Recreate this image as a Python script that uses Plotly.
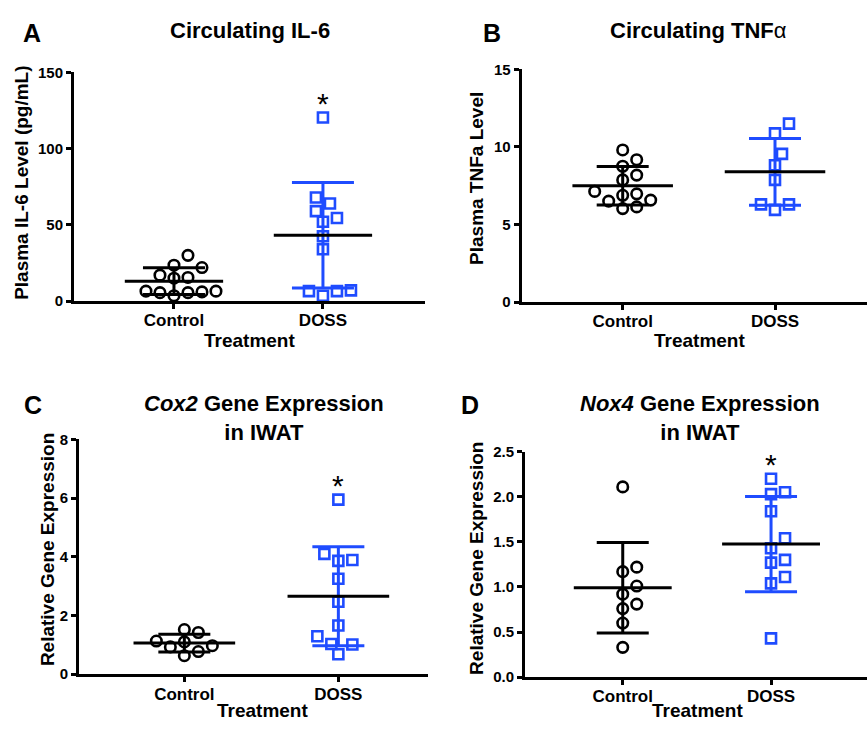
import numpy as np
import plotly.graph_objects as go

W, H = 867, 731
FONT = "Liberation Sans, Arial, sans-serif"
BLACK = "#000000"
BLUE = "#1f4cff"

categories = ["Control", "DOSS"]

# Panel A: circulating IL-6 (pg/mL)
il6_control = [30, 22, 23.5, 15, 15.5, 17, 6.5, 5.5, 3.5, 5.5, 6, 6.5]
il6_doss = [120.5, 68, 64, 59, 54.5, 52, 42.5, 34, 6.5, 3.5, 6.5, 7]
il6_ticks = [0, 50, 100, 150]

# Panel B: circulating TNFa
tnf_control = [9.8, 9.17, 8.75, 8.18, 7.87, 7.13, 6.88, 6.5, 6.02, 6.13, 6.57, 6.97]
tnf_doss = [11.5, 10.87, 9.55, 8.81, 7.87, 6.29, 5.94, 6.29]
tnf_ticks = [0, 5, 10, 15]

# Panel C: Cox2 relative gene expression
cox2_control = [1.42, 1.52, 1.10, 1.13, 0.93, 0.97, 0.63, 0.77]
cox2_doss = [5.95, 4.10, 3.86, 3.89, 3.25, 2.47, 1.66, 1.29, 1.03, 1.01, 0.68]
cox2_ticks = [0, 2, 4, 6, 8]

# Panel D: Nox4 relative gene expression
nox4_control = [2.11, 1.22, 1.17, 1.01, 0.92, 0.81, 0.76, 0.60, 0.33]
nox4_doss = [2.20, 2.05, 2.03, 1.84, 1.54, 1.43, 1.27, 1.30, 1.11, 1.04, 0.43]
nox4_ticks = [0, 0.5, 1.0, 1.5, 2.0, 2.5]

panels = [
    dict(letter="A", title="Circulating IL-6", ytitle="Plasma IL-6 Level (pg/mL)",
         groups=[il6_control, il6_doss], ticks=il6_ticks, tickformat="d", star=True,
         xdom=[74 / W, 425 / W], ydom=[1 - 299 / H, 1 - 65 / H], xr=[-0.671, 1.685],
         cap=31, letter_xy=(32, 25), title_xy=(250, 22), ytitle_xy=(22, 178),
         treat_xy=(249, 339)),
    dict(letter="B", title="Circulating TNF<span style='font-weight:normal'>α</span>",
         ytitle="Plasma TNFa Level",
         groups=[tnf_control, tnf_doss], ticks=tnf_ticks, tickformat="d", star=False,
         xdom=[521.7 / W, 1.0], ydom=[1 - 300 / H, 1 - 61.7 / H], xr=[-0.663, 1.604],
         cap=26, letter_xy=(492, 25), title_xy=(698, 22), ytitle_xy=(477, 174),
         treat_xy=(699, 339)),
    dict(letter="C", title="<i>Cox2</i> Gene Expression<br>in IWAT",
         ytitle="Relative Gene Expression",
         groups=[cox2_control, cox2_doss], ticks=cox2_ticks, tickformat="d", star=True,
         xdom=[79 / W, 428 / W], ydom=[1 - 681 / H, 1 - 440.7 / H], xr=[-0.684, 1.582],
         cap=26, letter_xy=(33, 405), title_xy=(264, 419), ytitle_xy=(47, 554),
         treat_xy=(262, 718)),
    dict(letter="D", title="<i>Nox4</i> Gene Expression<br>in IWAT",
         ytitle="Relative Gene Expression",
         groups=[nox4_control, nox4_doss], ticks=nox4_ticks, tickformat=".1f", star=True,
         xdom=[525 / W, 1.0], ydom=[1 - 684 / H, 1 - 453.3 / H], xr=[-0.659, 1.647],
         cap=26, letter_xy=(470, 405), title_xy=(700, 419), ytitle_xy=(477, 563),
         treat_xy=(697, 718)),
]


def swarm(values, px_per_y, px_per_x, diam=12.5, step=7.0):
    """Greedy beeswarm: spread points horizontally so markers don't overlap."""
    values = np.asarray(values, dtype=float)
    order = np.argsort(values, kind="stable")
    cands = [0.0] + [s * j * step for j in range(1, 30) for s in (1, -1)]
    placed = []
    offs = np.zeros(len(values))
    for i in order:
        y = values[i] * px_per_y
        chosen = cands[-1]
        for c in cands:
            if all((c - px) ** 2 + (y - py) ** 2 >= diam ** 2 for px, py in placed):
                chosen = c
                break
        placed.append((chosen, y))
        offs[i] = chosen / px_per_x
    return offs


fig = go.Figure()
annotations = []


def px(xp, yp):
    return xp / W, 1 - yp / H


for k, p in enumerate(panels, start=1):
    xa = "x" if k == 1 else f"x{k}"
    ya = "y" if k == 1 else f"y{k}"
    ymax = p["ticks"][-1]
    plot_h = (p["ydom"][1] - p["ydom"][0]) * H
    plot_w = (p["xdom"][1] - p["xdom"][0]) * W
    px_per_y = plot_h / ymax
    px_per_x = plot_w / (p["xr"][1] - p["xr"][0])

    colors = [BLACK, BLUE]
    symbols = ["circle-open", "square-open"]
    sizes = [10.5, 10]
    # points
    for gi, vals in enumerate(p["groups"]):
        offs = swarm(vals, px_per_y, px_per_x)
        fig.add_trace(go.Scatter(
            x=gi + offs, y=vals, mode="markers", xaxis=xa, yaxis=ya,
            marker=dict(symbol=symbols[gi], size=sizes[gi], color=colors[gi],
                        line=dict(width=2.6, color=colors[gi])),
            cliponaxis=False, showlegend=False, hoverinfo="y"))
    # mean +/- SD
    for gi, vals in enumerate(p["groups"]):
        m = float(np.mean(vals))
        sd = float(np.std(vals, ddof=1))
        fig.add_trace(go.Scatter(
            x=[gi], y=[m], mode="markers", xaxis=xa, yaxis=ya,
            marker=dict(size=1, opacity=0),
            error_y=dict(type="data", array=[sd], visible=True, color=colors[gi],
                         thickness=3, width=p["cap"]),
            cliponaxis=False, showlegend=False, hoverinfo="skip"))
        fig.add_trace(go.Scatter(
            x=[gi - 0.33, gi + 0.33], y=[m, m], mode="lines", xaxis=xa, yaxis=ya,
            line=dict(color=BLACK, width=3), cliponaxis=False,
            showlegend=False, hoverinfo="skip"))

    axis_common = dict(showgrid=False, zeroline=False, showline=True, linewidth=3,
                       linecolor=BLACK, ticks="outside", tickwidth=2.5, tickcolor=BLACK)
    fig.update_layout({
        ("xaxis" if k == 1 else f"xaxis{k}"): dict(
            domain=p["xdom"], anchor=ya, range=p["xr"], tickmode="array",
            tickvals=[0, 1], ticktext=categories, ticklen=5, ticklabelstandoff=-3,
            tickfont=dict(family=FONT, size=17, color=BLACK, weight="bold"),
            **axis_common),
        ("yaxis" if k == 1 else f"yaxis{k}"): dict(
            domain=p["ydom"], anchor=xa, range=[0, ymax], tickmode="array",
            tickvals=p["ticks"], tickformat=p["tickformat"], ticklen=5,
            tickfont=dict(family=FONT, size=15, color=BLACK, weight="bold"),
            **axis_common),
    })

    # texts
    lx, ly = px(*p["letter_xy"])
    annotations.append(dict(text=p["letter"], x=lx, y=ly, xref="paper", yref="paper",
                            showarrow=False, xanchor="center", yanchor="middle",
                            font=dict(family=FONT, size=25, color=BLACK, weight="bold")))
    tx, ty = px(*p["title_xy"])
    annotations.append(dict(text=p["title"], x=tx, y=ty, xref="paper", yref="paper",
                            showarrow=False, xanchor="center", yanchor="middle",
                            font=dict(family=FONT, size=22, color=BLACK, weight="bold")))
    yx, yy = px(*p["ytitle_xy"])
    annotations.append(dict(text=p["ytitle"], x=yx, y=yy, xref="paper", yref="paper",
                            showarrow=False, textangle=-90, xanchor="center",
                            yanchor="middle",
                            font=dict(family=FONT, size=19, color=BLACK, weight="bold")))
    trx, try_ = px(*p["treat_xy"])
    annotations.append(dict(text="Treatment", x=trx, y=try_, xref="paper", yref="paper",
                            showarrow=False, xanchor="center", yanchor="middle",
                            font=dict(family=FONT, size=19, color=BLACK, weight="bold")))
    if p["star"]:
        annotations.append(dict(text="*", x=1, y=float(np.max(p["groups"][1])),
                                xref=xa, yref=ya, showarrow=False, yshift=14,
                                xanchor="center", yanchor="middle",
                                font=dict(family=FONT, size=30, color=BLACK)))

fig.update_layout(
    width=W, height=H, margin=dict(l=0, r=0, t=0, b=0),
    paper_bgcolor="white", plot_bgcolor="white",
    annotations=annotations, showlegend=False,
    font=dict(family=FONT, color=BLACK),
)

fig.write_html("out.html", config={"displayModeBar": False},
               post_script="document.body.style.margin='0';document.body.style.padding='0';")
